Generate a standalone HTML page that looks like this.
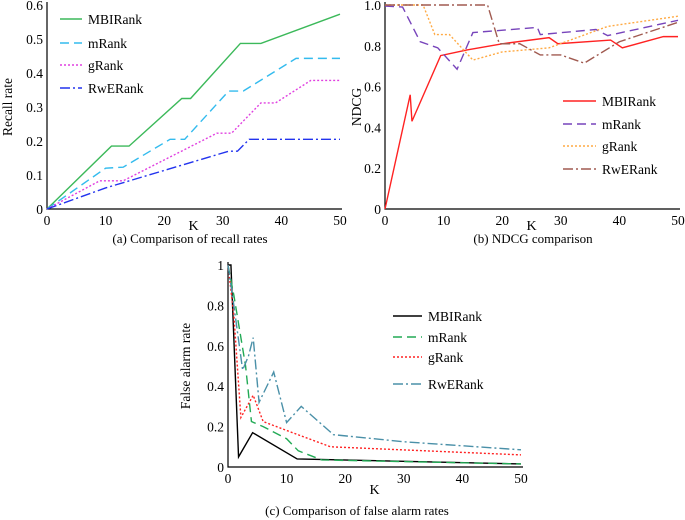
<!DOCTYPE html>
<html><head><meta charset="utf-8"><style>
body{margin:0;background:#fff;}
svg{display:block;}
svg text{font-family:"Liberation Serif","Times New Roman",serif;}
</style></head><body>
<svg id="svg" width="685" height="520" viewBox="0 0 685 520" xmlns="http://www.w3.org/2000/svg"></svg>
<script>
// ---- Chart (a) data: recall rates ----
const aMBI = [[0,0],[11,0.185],[14,0.185],[23,0.325],[24.5,0.325],[33,0.487],[36.5,0.487],[50,0.573]];
const aM = [[0,0],[10,0.12],[13,0.123],[21,0.205],[23.5,0.205],[31,0.347],[33.5,0.347],[42.5,0.443],[50,0.443]];
const aG = [[0,0],[9,0.083],[13,0.083],[29,0.223],[31.5,0.223],[36.5,0.312],[39,0.312],[45,0.378],[50,0.378]];
const aR = [[0,0],[10,0.062],[31,0.17],[32.5,0.17],[34.5,0.205],[50,0.205]];
const aYTicks = ["0","0.1","0.2","0.3","0.4","0.5","0.6"];
// ---- Chart (b) data: NDCG ----
const bMBI = [[0,0],[4.3,0.56],[4.6,0.43],[9.5,0.752],[14,0.78],[20,0.81],[28,0.84],[29.5,0.81],[38.5,0.828],[40.5,0.79],[47.5,0.845],[50,0.845]];
const bM = [[0,0.995],[3,0.99],[6,0.82],[9,0.79],[12.3,0.685],[15,0.865],[26,0.89],[26.5,0.855],[36,0.88],[38,0.85],[50,0.925]];
const bG = [[0,1],[6.5,1],[8.5,0.855],[11,0.855],[15,0.73],[20,0.77],[28,0.79],[38,0.895],[50,0.945]];
const bR = [[0,1],[17.5,1],[19.5,0.81],[23,0.81],[26.5,0.755],[30,0.755],[34,0.715],[40,0.82],[50,0.915]];
const bYTicks = ["0","0.2","0.4","0.6","0.8","1.0"];
// ---- Chart (c) data: false alarm ----
const cMBI = [[0,1],[0.5,1],[1.8,0.05],[4.2,0.17],[11.8,0.04],[50,0.015]];
const cM = [[0,1],[1,0.85],[3,0.5],[4,0.225],[6,0.2],[10,0.14],[12,0.08],[16,0.035],[50,0.015]];
const cG = [[0,1],[1,0.75],[2.2,0.245],[4.3,0.355],[6,0.225],[11,0.17],[17.5,0.1],[50,0.06]];
const cR = [[0,1],[1,0.8],[2.5,0.48],[3.5,0.55],[4.3,0.64],[5.3,0.32],[7.8,0.47],[10,0.22],[12.5,0.3],[18,0.16],[30,0.125],[50,0.085]];
const cYTicks = ["0","0.2","0.4","0.6","0.8","1"];
const xTicks = ["0","10","20","30","40","50"];
const names = ["MBIRank","mRank","gRank","RwERank"];

const NS="http://www.w3.org/2000/svg";
const svg=document.getElementById('svg');
const FF='"Liberation Serif", serif';
function mk(tag,attrs,parent){const e=document.createElementNS(NS,tag);for(const k in attrs)e.setAttribute(k,attrs[k]);if(tag==='text')e.setAttribute('font-family',FF);(parent||svg).appendChild(e);return e;}

function chart(id,cfg){
  const g=mk('g',{});
  
  
  const {x0,x1,y0,y1,ymax,yt,series,styles,leg,title,ytitle,ytx,kY,capY,capX}=cfg;
  const sx=v=>x0+(x1-x0)*v/50, sy=v=>y0-(y0-y1)*v/ymax;
  const ax=mk('path',{d:`M${x0} ${y1-3}V${y0}H${x1+2}`,stroke:'#000','stroke-width':1.2,fill:'none'},g);
  
  
  yt.forEach((t,i)=>{const v=ymax*i/(yt.length-1);
    const tx=mk('text',{x:x0-4,y:sy(v)+5,'text-anchor':'end','font-size':13.5},g);tx.textContent=t;
    
    });
  xTicks.forEach((t,i)=>{const tx=mk('text',{x:sx(i*10),y:y0+16,'text-anchor':'middle','font-size':13.5},g);tx.textContent=t;
    
    });
  series.forEach((s,i)=>{
    const p=mk('polyline',{points:s.map(d=>sx(d[0])+','+sy(d[1])).join(' '),fill:'none',stroke:styles[i][0],'stroke-width':1.4,'stroke-dasharray':styles[i][1]},g);
    
    
    const ly=leg.y[i];
    const l=mk('line',{x1:leg.x,x2:leg.x+leg.w,y1:ly,y2:ly,stroke:styles[i][0],'stroke-width':1.4,'stroke-dasharray':styles[i][1]},g);
    
    
    const t=mk('text',{x:leg.x+leg.w+6,y:ly+5,'font-size':13.5},g);t.textContent=names[i];
    
    
  });
  const k=mk('text',{x:(x0+x1)/2,y:kY,'text-anchor':'middle','font-size':14},g);k.textContent='K';
  
  
  const c=mk('text',{x:capX,y:capY,'text-anchor':'middle','font-size':13},g);c.textContent=title;
  
  
  const yy=(y0+y1)/2;
  const yl=mk('text',{x:ytx,y:yy,'text-anchor':'middle','font-size':13.5,transform:`rotate(-90 ${ytx} ${yy})`},g);yl.textContent=ytitle;
  
  
}
chart('chart-recall',{x0:47,x1:340,y0:209,y1:5,ymax:0.6,yt:aYTicks,series:[aMBI,aM,aG,aR],
  styles:[['#3cb95a','none'],['#33bbee','9 5'],['#e040e0','2 2'],['#2233ee','10 3 2 3']],
  leg:{x:60,w:22,y:[19,43,65,88]},title:'(a) Comparison of recall rates',ytitle:'Recall rate',ytx:12,kY:230,capY:243,capX:190});
chart('chart-ndcg',{x0:385,x1:678,y0:209,y1:5,ymax:1.0,yt:bYTicks,series:[bMBI,bM,bG,bR],
  styles:[['#ff2222','none'],['#7744bb','9 5'],['#ffaa44','2 2'],['#a05a50','10 3 2 3']],
  leg:{x:563,w:33,y:[101,124,146,169]},title:'(b) NDCG comparison',ytitle:'NDCG',ytx:361,kY:230,capY:243,capX:533});
chart('chart-false-alarm',{x0:228,x1:521,y0:467,y1:265,ymax:1,yt:cYTicks,series:[cMBI,cM,cG,cR],
  styles:[['#000000','none'],['#22aa55','9 5'],['#ff2222','2 2'],['#4a90a8','10 3 2 3']],
  leg:{x:393,w:29,y:[316,337,357,384]},title:'(c) Comparison of false alarm rates',ytitle:'False alarm rate',ytx:190,kY:494,capY:515,capX:357});
</script>
</body></html>
